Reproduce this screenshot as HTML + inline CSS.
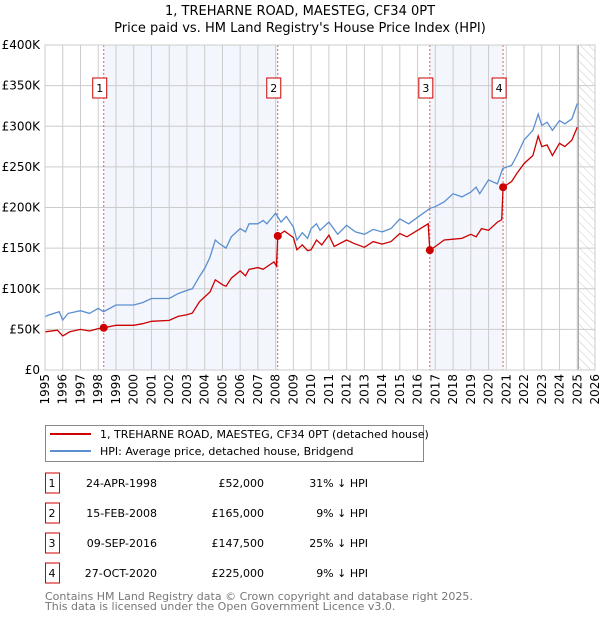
<!DOCTYPE html>
<html><head><meta charset="utf-8"><style>
body{margin:0;background:#fff;font-family:"DejaVu Sans","Liberation Sans",sans-serif;}
svg text{font-family:"DejaVu Sans","Liberation Sans",sans-serif;}
</style></head><body>
<svg id="c" width="600" height="620" xmlns="http://www.w3.org/2000/svg">
<defs><pattern id="hatch" width="6" height="6" patternUnits="userSpaceOnUse" patternTransform="rotate(-45)"><line x1="0" y1="0" x2="0" y2="6" stroke="#ccc" stroke-width="1"/></pattern></defs>
<text x="300" y="15" text-anchor="middle" font-size="13">1, TREHARNE ROAD, MAESTEG, CF34 0PT</text>
<text x="300" y="32" text-anchor="middle" font-size="13">Price paid vs. HM Land Registry's House Price Index (HPI)</text>
<g id="plot"></g>
<g>
<rect x="45.5" y="425.5" width="378" height="36" fill="#fff" stroke="#888"/>
<line x1="50" y1="434" x2="91" y2="434" stroke="#cc0000" stroke-width="2"/>
<text x="100" y="438" font-size="11">1, TREHARNE ROAD, MAESTEG, CF34 0PT (detached house)</text>
<line x1="50" y1="451" x2="91" y2="451" stroke="#5b8fd0" stroke-width="2"/>
<text x="100" y="455" font-size="11">HPI: Average price, detached house, Bridgend</text>
</g>
<g id="table"></g>
<text x="45" y="600" font-size="11" fill="#777">Contains HM Land Registry data © Crown copyright and database right 2025.</text>
<text x="45" y="610" font-size="11" fill="#777">This data is licensed under the Open Government Licence v3.0.</text>
</svg>
<script>
const hpiT=[1995.0,1995.2,1995.8,1996.0,1996.3,1997.0,1997.5,1998.0,1998.3,1999.0,2000.0,2000.5,2001.0,2002.0,2002.5,2003.0,2003.3,2003.7,2004.0,2004.3,2004.6,2004.8,2005.2,2005.5,2006.0,2006.3,2006.5,2007.0,2007.3,2007.5,2008.0,2008.3,2008.6,2009.0,2009.2,2009.5,2009.8,2010.0,2010.3,2010.5,2011.0,2011.5,2012.0,2012.5,2013.0,2013.5,2014.0,2014.5,2015.0,2015.5,2016.0,2016.7,2017.0,2017.5,2018.0,2018.5,2019.0,2019.3,2019.5,2020.0,2020.5,2020.8,2021.3,2021.6,2022.0,2022.5,2022.8,2023.0,2023.3,2023.6,2024.0,2024.3,2024.7,2025.0];
const hpiV=[65.6,67.6,71.7,61.5,69.7,73,69.7,75.8,71.7,80,80,83,88,88,94,98,100,115,125,139,160,156,150,164,174,170,180,180,184,180,193,182,189,176,160,169,162,174,180,172,182,167,178,170,167,173,170,174,186,180,188,199,201,207,217,213,219,225,217,234,229,248,252,264,283,295,315,301,305,295,307,303,309,328];
const ppT=[1995.0,1995.7,1996.0,1996.4,1997.0,1997.5,1998.0,1998.31,1999.0,2000.0,2000.5,2001.0,2002.0,2002.5,2003.0,2003.3,2003.7,2004.0,2004.3,2004.6,2005.0,2005.2,2005.5,2006.0,2006.3,2006.5,2007.0,2007.3,2007.9,2008.05,2008.12,2008.5,2009.0,2009.2,2009.5,2009.8,2010.0,2010.3,2010.6,2011.0,2011.3,2012.0,2012.4,2013.0,2013.5,2014.0,2014.5,2015.0,2015.4,2016.0,2016.6,2016.69,2017.0,2017.5,2018.0,2018.5,2019.0,2019.3,2019.6,2020.0,2020.5,2020.74,2020.82,2021.3,2021.6,2022.0,2022.5,2022.8,2023.0,2023.3,2023.6,2024.0,2024.3,2024.7,2025.0];
const ppV=[47,49,42,47,50,48,51,52,55,55,57,60,61,66,68,70,84,90,96,111,105,103,113,122,116,124,126,124,133,128,165,171,163,148,154,147,148,160,154,166,152,160,156,151,158,155,158,168,164,172,180,147.5,152,160,161,162,167,164,174,172,182,185,225,232,242,254,264,288,275,277,264,279,275,283,299];
const saleT=[1998.31,2008.12,2016.69,2020.82];
const saleV=[52,165,147.5,225];
const saleLabels=["1","2","3","4"];
const saleDates=["24-APR-1998","15-FEB-2008","09-SEP-2016","27-OCT-2020"];
const salePrices=["£52,000","£165,000","£147,500","£225,000"];
const saleHpi=["31% ↓ HPI","9% ↓ HPI","25% ↓ HPI","9% ↓ HPI"];
const yTicks=[0,50,100,150,200,250,300,350,400];
const yTickLabels=["£0","£50K","£100K","£150K","£200K","£250K","£300K","£350K","£400K"];
const xYears=[1995,1996,1997,1998,1999,2000,2001,2002,2003,2004,2005,2006,2007,2008,2009,2010,2011,2012,2013,2014,2015,2016,2017,2018,2019,2020,2021,2022,2023,2024,2025,2026];
const dataEnd=2025.06;

const L=45,R=595,T=45,B=370,x0=1995,x1=2026,yMax=400;
const X=t=>L+(t-x0)/(x1-x0)*(R-L);
const Y=v=>B-v/yMax*(B-T);
const NS="http://www.w3.org/2000/svg";
const plot=document.getElementById('plot');
function mk(tag,attrs,parent,txt){const e=document.createElementNS(NS,tag);for(const k in attrs)e.setAttribute(k,attrs[k]);if(txt!==undefined)e.textContent=txt;(parent||plot).appendChild(e);return e;}
for(let i=0;i<saleT.length;i+=2){
 const r=mk('rect',{x:X(saleT[i]),y:T,width:X(saleT[i+1])-X(saleT[i]),height:B-T,fill:'#f3f6fd'});
 
 
}
const h=mk('rect',{x:X(dataEnd),y:T,width:R-X(dataEnd),height:B-T,fill:'url(#hatch)'});


xYears.forEach(yr=>{const g=mk('line',{x1:X(yr),x2:X(yr),y1:T,y2:B,stroke:'#ccc','stroke-width':1});
 
 
 const tx=mk('text',{x:0,y:0,'font-size':12,'text-anchor':'end',transform:`translate(${X(yr)+4},374) rotate(-90)`},plot,String(yr));
 
 
});
yTicks.forEach((v,i)=>{const g=mk('line',{x1:L,x2:R,y1:Y(v),y2:Y(v),stroke:'#ccc','stroke-width':1});
 
 
 const tx=mk('text',{x:40,y:Y(v)+4,'font-size':12,'text-anchor':'end'},plot,yTickLabels[i]);
 
 
});
const ed=mk('line',{x1:X(dataEnd),x2:X(dataEnd),y1:T,y2:B,stroke:'#999','stroke-width':1});


saleT.forEach((t,i)=>{
 const l=mk('line',{x1:X(t),x2:X(t),y1:T,y2:B,stroke:'#e06060','stroke-width':1,'stroke-dasharray':'2,2'});
 
 
 const cx=X(t)-4;
 const b=mk('rect',{x:cx-7,y:78,width:14,height:20,fill:'#fff',stroke:'#cc0000'});
 
 
 const tx=mk('text',{x:cx,y:92,'font-size':11,'text-anchor':'middle'},plot,saleLabels[i]);
 
 
});
const pts=(ts,vs)=>ts.map((t,i)=>X(t).toFixed(1)+','+Y(vs[i]).toFixed(1)).join(' ');
const hl=mk('polyline',{points:pts(hpiT,hpiV),fill:'none',stroke:'#5b8fd0','stroke-width':1.3});


const pl=mk('polyline',{points:pts(ppT,ppV),fill:'none',stroke:'#cc0000','stroke-width':1.3});


saleT.forEach((t,i)=>{const c=mk('circle',{cx:X(t),cy:Y(saleV[i]),r:4,fill:'#cc0000'});
 
 
});
const fr=mk('rect',{x:L,y:T,width:R-L,height:B-T,fill:'none',stroke:'#ccc'});


const tb=document.getElementById('table');
saleLabels.forEach((s,i)=>{const cy=483+i*30;
 const b=mk('rect',{x:45.5,y:cy-10,width:14,height:20,fill:'#fff',stroke:'#cc0000'},tb);
 
 
 const cells=[[52,'middle',s],[157,'end',saleDates[i]],[264,'end',salePrices[i]],[368,'end',saleHpi[i]]];
 cells.forEach((c,j)=>{const tx=mk('text',{x:c[0],y:cy+4,'font-size':11,'text-anchor':c[1]},tb,c[2]);
  
  });
});
</script>
</body></html>
